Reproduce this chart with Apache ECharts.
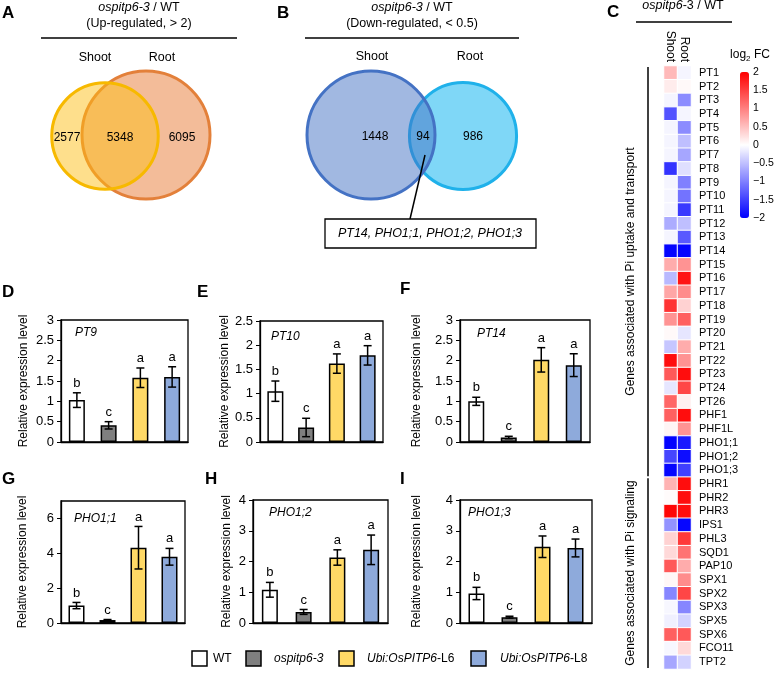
<!DOCTYPE html>
<html>
<head>
<meta charset="utf-8">
<script src="https://cdn.jsdelivr.net/npm/echarts/dist/echarts.min.js"></script>
<style>html,body{margin:0;padding:0;background:#fff}#main{width:775px;height:676px}</style>
</head>
<body>
<div id="main"></div>
<script>
// ---------------- DATA ----------------
const genotypes = ['WT', 'ospitp6-3', 'Ubi:OsPITP6-L6', 'Ubi:OsPITP6-L8'];
const sigLetters = ['b', 'c', 'a', 'a'];
const barGenes = ['PT9', 'PT10', 'PT14', 'PHO1;1', 'PHO1;2', 'PHO1;3'];

const pt9Mean   = [1.03, 0.41, 1.58, 1.60];
const pt9Err    = [0.18, 0.09, 0.24, 0.25];
const pt10Mean  = [1.05, 0.30, 1.62, 1.79];
const pt10Err   = [0.21, 0.19, 0.20, 0.20];
const pt14Mean  = [1.00, 0.11, 2.02, 1.89];
const pt14Err   = [0.10, 0.03, 0.30, 0.28];
const pho11Mean = [1.00, 0.17, 4.32, 3.80];
const pho11Err  = [0.18, 0.03, 1.22, 0.48];
const pho12Mean = [1.08, 0.36, 2.13, 2.38];
const pho12Err  = [0.24, 0.08, 0.25, 0.48];
const pho13Mean = [0.96, 0.19, 2.48, 2.44];
const pho13Err  = [0.20, 0.03, 0.35, 0.29];

const yMaxes = [3, 2.5, 3, 7, 4, 4];
const ySteps = [0.5, 0.5, 0.5, 2, 1, 1];

// Venn counts
const vennUp   = {shootOnly: 2577, both: 5348, rootOnly: 6095};
const vennDown = {shootOnly: 1448, both: 94, rootOnly: 986};
const overlapGenes = 'PT14, PHO1;1, PHO1;2, PHO1;3';

// Heatmap
const heatCols = ['Shoot', 'Root'];
const heatGenes = ['PT1','PT2','PT3','PT4','PT5','PT6','PT7','PT8','PT9','PT10','PT11','PT12','PT13','PT14',
  'PT15','PT16','PT17','PT18','PT19','PT20','PT21','PT22','PT23','PT24','PT26','PHF1','PHF1L',
  'PHO1;1','PHO1;2','PHO1;3',
  'PHR1','PHR2','PHR3','IPS1','PHL3','SQD1','PAP10','SPX1','SPX2','SPX3','SPX5','SPX6','FCO11','TPT2'];
const shootFC = [0.55,0.15,-0.08,-1.35,-0.08,-0.08,-0.08,-1.6,-0.08,-0.08,-0.08,-0.65,-0.08,-1.97,
  0.65,-0.55,0.7,1.6,0.85,0.05,-0.45,1.9,1.3,-0.2,1.2,1.25,0.08,
  -1.98,-1.45,-1.95,
  0.6,0.03,1.95,-0.85,0.35,0.3,1.3,0.06,-0.95,-0.06,-0.12,1.25,-0.06,-0.7];
const rootFC = [-0.08,0.05,-0.9,-0.08,-0.9,-0.5,-0.7,-0.25,-1.0,-1.1,-1.55,-0.5,-1.3,-1.97,
  0.85,1.85,0.9,0.35,1.25,-0.2,0.65,0.85,1.9,1.45,0.12,1.9,0.85,
  -1.8,-1.9,-1.5,
  1.9,1.9,1.9,-1.95,1.55,1.1,0.65,0.9,1.45,-0.95,-0.35,1.3,0.3,-0.35];
const groupSizes = [30, 14];
const groupNames = ['Genes associated with Pi uptake and transport', 'Genes associated with Pi signaling'];
const colorbarTicks = [2, 1.5, 1, 0.5, 0, -0.5, -1, -1.5, -2];

// ---------------- LAYOUT / STYLE ----------------
const FONT = 'Liberation Sans, Arial, Helvetica, sans-serif';
const barColors = ['#ffffff', '#7f7f7f', '#ffd966', '#8eaadb'];
const means = [pt9Mean, pt10Mean, pt14Mean, pho11Mean, pho12Mean, pho13Mean];
const errs  = [pt9Err, pt10Err, pt14Err, pho11Err, pho12Err, pho13Err];
const panelBoxes = [[61,320,127,122],[260,321,123,121],[460,320,130,122],
                    [61,501,124,122],[253,500,135,123],[460,500,132,123]];
const nameGaps = [31, 25, 37, 32, 20, 37];
const tagPos = [[75,333],[271,337],[477,334],[74,519],[269,513],[468,513]];
const heatBox = [664, 66, 27, 603];
const cbar = {x: 740, y: 72, w: 9, h: 146};

const grids = [], xAxes = [], yAxes = [], series = [];
panelBoxes.forEach((b, p) => {
  grids.push({left: b[0], top: b[1], width: b[2], height: b[3], show: true,
    borderColor: '#000', borderWidth: 1.3, backgroundColor: 'transparent'});
  xAxes.push({type: 'category', gridIndex: p, data: genotypes,
    axisLabel: {show: false}, axisTick: {show: false},
    axisLine: {show: true, lineStyle: {color: '#000', width: 1.3}}});
  yAxes.push({type: 'value', gridIndex: p, min: 0, max: yMaxes[p], interval: ySteps[p],
    splitLine: {show: false},
    axisLine: {show: true, lineStyle: {color: '#000', width: 1.3}},
    axisTick: {show: true, inside: false, length: 4, lineStyle: {color: '#000', width: 1}},
    axisLabel: {fontSize: 13, color: '#000', margin: 7, fontFamily: FONT,
      showMaxLabel: Math.abs(yMaxes[p] / ySteps[p] - Math.round(yMaxes[p] / ySteps[p])) < 1e-9},
    name: 'Relative expression level', nameLocation: 'middle', nameGap: nameGaps[p],
    nameTextStyle: {fontSize: 12, color: '#000', fontFamily: FONT}});
  series.push({type: 'bar', xAxisIndex: p, yAxisIndex: p, barWidth: 16,
    data: means[p].map((v, i) => ({value: v, itemStyle: {color: barColors[i]}})),
    itemStyle: {borderColor: '#000', borderWidth: 1.5}, silent: true, z: 2});
  series.push({type: 'custom', xAxisIndex: p, yAxisIndex: p, z: 5, silent: true,
    data: means[p].map((v, i) => [i, v, errs[p][i]]),
    encode: {x: 0, y: 1},
    renderItem: function (params, api) {
      const i = api.value(0), m = api.value(1), e = api.value(2);
      const top = api.coord([i, m + e]), bot = api.coord([i, m - e]);
      const c = 4, ls = {stroke: '#000', lineWidth: 1.5};
      return {type: 'group', children: [
        {type: 'line', shape: {x1: top[0], y1: top[1], x2: bot[0], y2: bot[1]}, style: ls},
        {type: 'line', shape: {x1: top[0] - c, y1: top[1], x2: top[0] + c, y2: top[1]}, style: ls},
        {type: 'line', shape: {x1: bot[0] - c, y1: bot[1], x2: bot[0] + c, y2: bot[1]}, style: ls},
        {type: 'text', style: {text: sigLetters[params.dataIndex], x: top[0], y: top[1] - 3,
          align: 'center', verticalAlign: 'bottom', font: '13px ' + FONT, fill: '#000'}}
      ]};
    }});
});

// heatmap
const hg = grids.length;
grids.push({left: heatBox[0], top: heatBox[1], width: heatBox[2], height: heatBox[3], show: false});
xAxes.push({type: 'category', gridIndex: hg, data: heatCols, position: 'top',
  axisLine: {show: false}, axisTick: {show: false},
  axisLabel: {rotate: 90, margin: 4, fontSize: 12, color: '#000', interval: 0, fontFamily: FONT}});
yAxes.push({type: 'category', gridIndex: hg, data: heatGenes, inverse: true, position: 'right',
  axisLine: {show: false}, axisTick: {show: false},
  axisLabel: {margin: 8, fontSize: 11, color: '#000', interval: 0, fontFamily: FONT}});
const heatData = [];
heatGenes.forEach((g, r) => { heatData.push([0, r, shootFC[r]]); heatData.push([1, r, rootFC[r]]); });
const heatIdx = series.length;
series.push({type: 'heatmap', xAxisIndex: hg, yAxisIndex: hg, data: heatData, silent: true,
  itemStyle: {borderColor: '#fff', borderWidth: 1}});

// ---------------- GRAPHIC (annotations) ----------------
const G = [];
function T(x, y, text, o) {
  o = o || {};
  G.push({type: 'text', x: x, y: y, rotation: o.rot || 0, z: 50,
    style: {text: text, font: (o.bold ? 'bold ' : '') + (o.italic ? 'italic ' : '') + (o.size || 12) + 'px ' + FONT,
      fill: '#000', align: o.align || 'center', verticalAlign: o.va || 'middle', rich: o.rich}});
}
function L(x1, y1, x2, y2, w) {
  G.push({type: 'line', z: 50, shape: {x1, y1, x2, y2}, style: {stroke: '#000', lineWidth: w || 1.5}});
}
const richIt = {i: {fontStyle: 'italic', fontSize: 12.5, fontFamily: FONT}};

// Panel letters
[['A',2,13],['B',277,13],['C',607,12],['D',2,292],['E',197,292],['F',400,289],['G',2,479],['H',205,479],['I',400,479]]
  .forEach(a => T(a[1], a[2], a[0], {bold: true, size: 17, align: 'left'}));

// Titles
T(139, 8, '{i|ospitp6-3} / WT', {size: 12.5, rich: richIt});
T(139, 24, '(Up-regulated, > 2)', {size: 12.5});
L(41, 38, 237, 38, 1.6);
T(412, 8, '{i|ospitp6-3} / WT', {size: 12.5, rich: richIt});
T(412, 24, '(Down-regulated, < 0.5)', {size: 12.5});
L(305, 38, 519, 38, 1.6);
T(683, 6, '{i|ospitp6}-3 / WT', {size: 12.5, rich: richIt});
L(636, 22, 732, 22, 1.6);

// Venn diagrams (radius area-proportional to set totals)
function venn(d, cS, cR, colS, colR, lblS, lblR) {
  const tS = d.shootOnly + d.both, tR = d.rootOnly + d.both, mx = Math.max(tS, tR);
  const rS = 64 * Math.sqrt(tS / mx), rR = 64 * Math.sqrt(tR / mx);
  G.push({type: 'circle', z: 10, shape: {cx: cR[0], cy: cR[1], r: rR}, style: {fill: colR[0], stroke: colR[1], lineWidth: 3}});
  G.push({type: 'circle', z: 11, shape: {cx: cS[0], cy: cS[1], r: rS}, style: {fill: colS[0], stroke: colS[1], lineWidth: 3}});
  T(lblS[0], lblS[1], 'Shoot', {size: 12.5});
  T(lblR[0], lblR[1], 'Root', {size: 12.5});
}
venn(vennUp, [105,136], [146,135], ['rgba(252,190,20,0.49)', '#f7b900'], ['rgba(232,122,52,0.5)', '#e3803a'], [95,58], [162,58]);
T(67, 138, String(vennUp.shootOnly)); T(120, 138, String(vennUp.both)); T(182, 138, String(vennUp.rootOnly));
venn(vennDown, [371,135], [463,136], ['rgba(68,114,196,0.5)', '#4472c4'], ['rgba(0,176,240,0.5)', '#1fb1ea'], [372,57], [470,57]);
T(375, 137, String(vennDown.shootOnly)); T(423, 137, String(vennDown.both)); T(473, 137, String(vennDown.rootOnly));
L(425, 155, 410, 219, 1.5);
G.push({type: 'rect', z: 50, shape: {x: 325, y: 219, width: 211, height: 29}, style: {fill: '#fff', stroke: '#000', lineWidth: 1.3}});
T(430, 234, overlapGenes, {italic: true, size: 12.5});

// Gene names in bar panels
barGenes.forEach((g, p) => T(tagPos[p][0], tagPos[p][1], g, {italic: true, size: 12, align: 'left'}));

// Legend
const legX = [[192, 213], [246, 274], [339, 367], [471, 500]];
const legTxt = ['WT', '{i|ospitp6-3}', '{i|Ubi:OsPITP6}-L6', '{i|Ubi:OsPITP6}-L8'];
const richLeg = {i: {fontStyle: 'italic', fontSize: 12, fontFamily: FONT}};
genotypes.forEach((g, i) => {
  G.push({type: 'rect', z: 50, shape: {x: legX[i][0], y: 651, width: 15, height: 15},
    style: {fill: barColors[i], stroke: '#000', lineWidth: 1.5}});
  T(legX[i][1], 659, legTxt[i], {size: 12, align: 'left', rich: richLeg});
});

// Heatmap extras
T(750, 55, '{a|log}{s|2}{a| FC}', {size: 12, rich: {a: {fontSize: 12, fontFamily: FONT}, s: {fontSize: 8, fontFamily: FONT, verticalAlign: 'bottom', padding: [8, 0, 0, 0]}}});
colorbarTicks.forEach(v => T(753, cbar.y + (2 - v) / 4 * cbar.h, (v < 0 ? '\u2212' : '') + Math.abs(v), {size: 10.5, align: 'left'}));
const rowH = heatBox[3] / heatGenes.length;
let r0 = 0;
groupSizes.forEach((n, gi) => {
  const y1 = heatBox[1] + r0 * rowH + 1, y2 = heatBox[1] + (r0 + n) * rowH - 1;
  L(648, y1, 648, y2, 1.5);
  T(631, (y1 + y2) / 2, groupNames[gi], {size: 12, rot: Math.PI / 2});
  r0 += n;
});

const chart = echarts.init(document.getElementById('main'));
chart.setOption({
  animation: false,
  backgroundColor: '#fff',
  textStyle: {fontFamily: FONT},
  grid: grids, xAxis: xAxes, yAxis: yAxes, series: series,
  visualMap: [{type: 'continuous', min: -2, max: 2, seriesIndex: heatIdx, calculable: false,
    left: cbar.x, top: cbar.y, itemWidth: cbar.w, itemHeight: cbar.h, padding: 0, hoverLink: false,
    inRange: {color: ['#0000ff', '#ffffff', '#ff0000']}}],
  graphic: G
});
</script>
</body>
</html>
